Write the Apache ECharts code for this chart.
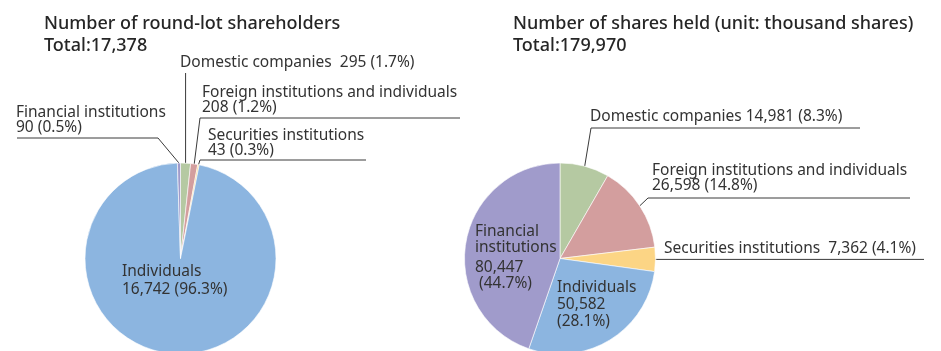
<!DOCTYPE html>
<html>
<head>
<meta charset="utf-8">
<script src="https://cdn.jsdelivr.net/npm/echarts@6/dist/echarts.min.js"></script>
<style>
  html, body { margin: 0; padding: 0; background: #fff; }
  #chart { width: 941px; height: 351px; }
</style>
</head>
<body>
<div id="chart"></div>
<script>
// Shareholder composition, clockwise from 12 o'clock
const categories = [
  'Domestic companies',
  'Foreign institutions and individuals',
  'Securities institutions',
  'Individuals',
  'Financial institutions'
];
const holderCounts = [295, 208, 43, 16742, 90];
const holderPct = [1.7, 1.2, 0.3, 96.3, 0.5];
const sharesHeld = [14981, 26598, 7362, 50582, 80447];
const sharesPct = [8.3, 14.8, 4.1, 28.1, 44.7];

const colors = ['#b5c9a2', '#d39e9e', '#fcd585', '#8cb5e0', '#a09bcb'];

const FONT = '"Noto Sans", "Liberation Sans", Arial, sans-serif';
const TEXT = '#333333';
const LINE = '#3a3a3a';
const LABEL_SIZE = 15.5;

const fmt = v => v.toLocaleString('en-US');
const sum = a => a.reduce((s, v) => s + v, 0);

// Label text for each slice (per chart)
function labelText(chart, i) {
  const vals = chart === 0 ? holderCounts : sharesHeld;
  const pct = chart === 0 ? holderPct : sharesPct;
  const v = fmt(vals[i]);
  const p = '(' + pct[i].toFixed(1) + '%)';
  if (chart === 0) {
    if (i === 0) return categories[0] + '  ' + v + ' ' + p;
    return categories[i] + '\n' + v + ' ' + p;
  }
  if (i === 0) return categories[0] + ' ' + v + ' ' + p;
  if (i === 1) return categories[1] + '\n' + v + ' ' + p;
  if (i === 2) return categories[2] + '  ' + v + ' ' + p;
  if (i === 3) return categories[3] + '\n' + v + '\n' + p;
  return '{t|Financial}\n{t|institutions}\n{gap|}\n{t|' + v + '}\n{t| ' + p + '}';
}

// Label placement: left x, vertical middle, and leader-line bend/end
const placement = [
  [
    { x: 180, y: 63, bend: 'up', toY: 73 },
    { x: 202, y: 100, bend: [200, 118], end: [460, 118] },
    { x: 208, y: 143, bend: [200, 160], end: [366, 160] },
    { x: 122, y: 281, inside: true, lh: 18 },
    { x: 16, y: 120, bend: [158, 138], end: [17, 138] }
  ],
  [
    { x: 590, y: 117, bend: [591, 128], end: [860, 128] },
    { x: 652, y: 178, bend: [648, 198], end: [910, 198] },
    { x: 664, y: 249, bend: 'flat', endX: 924 },
    { x: 557, y: 305, inside: true, lh: 17 },
    { x: 475, y: 258, inside: true, lh: 16 }
  ]
];

function seriesFor(chart, values, center) {
  return {
    type: 'pie',
    center: center,
    radius: 95.5,
    startAngle: 90,
    clockwise: true,
    avoidLabelOverlap: false,
    silent: true,
    animation: false,
    itemStyle: { borderColor: '#ffffff', borderWidth: 0.6 },
    label: {
      show: true,
      position: 'outside',
      color: TEXT,
      fontFamily: FONT,
      fontSize: LABEL_SIZE,
      lineHeight: 15,
      formatter: p => labelText(chart, p.dataIndex),
      rich: {
        t: { fontFamily: FONT, fontSize: LABEL_SIZE, lineHeight: 16, color: TEXT },
        gap: { lineHeight: 4, height: 4 }
      }
    },
    labelLine: {
      show: true,
      length: 10,
      length2: 10,
      smooth: false,
      lineStyle: { color: LINE, width: 1 }
    },
    labelLayout: function (params) {
      const pl = placement[chart][params.dataIndex];
      const out = { x: pl.x, y: pl.y, align: 'left', verticalAlign: 'middle' };
      const pts = params.labelLinePoints;
      if (pts && !pl.inside) {
        const p0 = pts[0];
        let pts2;
        if (pl.bend === 'up') pts2 = [p0, [p0[0], pl.toY], [p0[0], pl.toY]];
        else if (pl.bend === 'flat') pts2 = [p0, [p0[0] + 1, p0[1]], [pl.endX, p0[1]]];
        else pts2 = [p0, pl.bend, pl.end];
        out.labelLinePoints = pts2;
      }
      return out;
    },
    data: values.map((v, i) => ({
      name: categories[i],
      value: v,
      itemStyle: { color: colors[i] },
      label: placement[chart][i].inside ? { lineHeight: placement[chart][i].lh } : undefined,
      labelLine: { show: !placement[chart][i].inside }
    }))
  };
}

const titleStyle = { fontFamily: FONT, fontSize: 18, fontWeight: 500, color: '#262626', lineHeight: 22 };

const chart = echarts.init(document.getElementById('chart'), null, { renderer: 'canvas' });
chart.setOption({
  backgroundColor: '#ffffff',
  animation: false,
  title: [
    {
      text: 'Number of round-lot shareholders\nTotal:' + fmt(sum(holderCounts)),
      left: 39, top: 8,
      textStyle: titleStyle
    },
    {
      text: 'Number of shares held (unit: thousand shares)\nTotal:' + fmt(sum(sharesHeld)),
      left: 508, top: 8,
      textStyle: titleStyle
    }
  ],
  series: [
    seriesFor(0, holderCounts, [180.5, 258.5]),
    seriesFor(1, sharesHeld, [560, 258.5])
  ]
});
</script>
</body>
</html>
